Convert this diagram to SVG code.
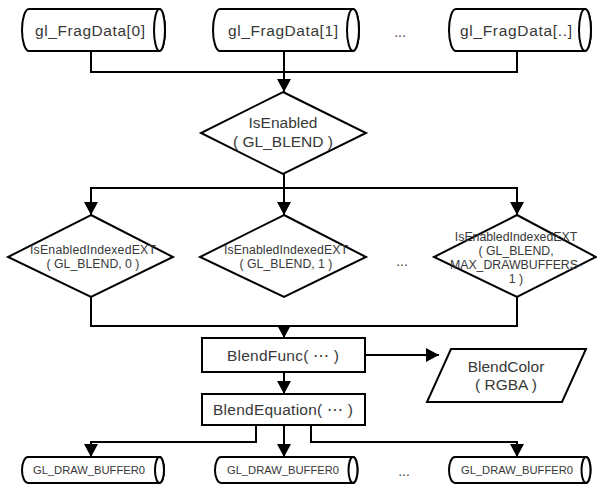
<svg xmlns="http://www.w3.org/2000/svg" width="597" height="484" viewBox="0 0 597 484">
<style>
.s{fill:#fff;stroke:#000;stroke-width:2}
.c{fill:none;stroke:#000;stroke-width:2}
text{font-family:"Liberation Sans",Arial,sans-serif;fill:#383838;text-anchor:middle}
.t15{font-size:15.5px}
.t12{font-size:12.3px}
.t11{font-size:11.2px}
.dots{font-size:14px;fill:#444}
</style>
<defs>
<marker id="ah" markerUnits="userSpaceOnUse" markerWidth="14" markerHeight="14" viewBox="0 0 14 14" refX="13" refY="7" orient="auto">
<path d="M0,0 L13,7 L0,14 Z" fill="#000"/>
</marker>
</defs>
<g id="connectors">
<path class="c" d="M91,51 V72 H517 V51"/>
<path class="c" d="M284,51 V92" marker-end="url(#ah)"/>
<path class="c" d="M284,174 V188"/>
<path class="c" d="M91,215 V188 H517 V215" marker-end="url(#ah)"/>
<path class="c" d="M91,188 V215" marker-end="url(#ah)"/>
<path class="c" d="M284,188 V215" marker-end="url(#ah)"/>
<path class="c" d="M91,297 V326 H517 V297"/>
<path class="c" d="M284,326 V338" marker-end="url(#ah)"/>
<path class="c" d="M365,355 H439" marker-end="url(#ah)"/>
<path class="c" d="M284,372 V394" marker-end="url(#ah)"/>
<path class="c" d="M256,425 V442 H91 V457" marker-end="url(#ah)"/>
<path class="c" d="M284,425 V457" marker-end="url(#ah)"/>
<path class="c" d="M311,425 V442 H517 V457" marker-end="url(#ah)"/>
</g>
<g id="fragdata0">
<path class="s" d="M29,9 H159.5 A5.5,21 0 0 1 159.5,51 H29 A7,21 0 0 1 29,9 Z"/>
<ellipse class="s" cx="159.5" cy="30" rx="5.5" ry="21"/>
<text class="t15" x="90" y="35.5" textLength="110">gl_FragData[0]</text>
</g>
<g id="fragdata1">
<path class="s" d="M220,9 H353 A6,21 0 0 1 353,51 H220 A7,21 0 0 1 220,9 Z"/>
<ellipse class="s" cx="353" cy="30" rx="6" ry="21"/>
<text class="t15" x="283" y="35.5" textLength="110">gl_FragData[1]</text>
</g>
<text class="dots" x="400" y="37">...</text>
<g id="fragdataN">
<path class="s" d="M456,9 H585 A6,21 0 0 1 585,51 H456 A7,21 0 0 1 456,9 Z"/>
<ellipse class="s" cx="585" cy="30" rx="6" ry="21"/>
<text class="t15" x="516" y="35.5" textLength="112">gl_FragData[..]</text>
</g>
<g id="isenabled">
<polygon class="s" points="283,92 366,133 283,174 201,133"/>
<text class="t15" x="283" y="128">IsEnabled</text>
<text class="t15" x="283" y="147">( GL_BLEND )</text>
</g>
<g id="indexed0">
<polygon class="s" points="91,215 173,257 91,297 8,257"/>
<text class="t12" x="93" y="254" textLength="126">IsEnabledIndexedEXT</text>
<text class="t12" x="93" y="268">( GL_BLEND, 0 )</text>
</g>
<g id="indexed1">
<polygon class="s" points="284,215 366,257 284,297 200,257"/>
<text class="t12" x="286" y="254" textLength="124">IsEnabledIndexedEXT</text>
<text class="t12" x="286" y="268">( GL_BLEND, 1 )</text>
</g>
<text class="dots" x="402" y="266">...</text>
<g id="indexedN">
<polygon class="s" points="517,215 596,257 517,297 434,257"/>
<text class="t12" x="516" y="241">IsEnabledIndexedEXT</text>
<text class="t12" x="516" y="255">( GL_BLEND,</text>
<text class="t12" x="516" y="269">MAX_DRAWBUFFERS-</text>
<text class="t12" x="516" y="283">1 )</text>
</g>
<g id="blendfunc">
<rect class="s" x="202" y="338" width="163" height="34"/>
<text class="t15" x="283" y="360.5" textLength="112">BlendFunc( ⋯ )</text>
</g>
<g id="blendcolor">
<polygon class="s" points="451,349 586,349 562,402 427,402"/>
<text class="t15" x="506" y="372">BlendColor</text>
<text class="t15" x="506" y="390">( RGBA )</text>
</g>
<g id="blendequation">
<rect class="s" x="202" y="394" width="163" height="31"/>
<text class="t15" x="283" y="415" textLength="140">BlendEquation( ⋯ )</text>
</g>
<g id="drawbuffer0">
<path class="s" d="M28,457 H159.5 A4.5,13 0 0 1 159.5,483 H28 A6,13 0 0 1 28,457 Z"/>
<ellipse class="s" cx="159.5" cy="470" rx="4.5" ry="13"/>
<text class="t11" x="89" y="474">GL_DRAW_BUFFER0</text>
</g>
<g id="drawbuffer1">
<path class="s" d="M221,457 H353 A4.5,13 0 0 1 353,483 H221 A6,13 0 0 1 221,457 Z"/>
<ellipse class="s" cx="353" cy="470" rx="4.5" ry="13"/>
<text class="t11" x="283" y="474">GL_DRAW_BUFFER0</text>
</g>
<text class="dots" x="404" y="476">...</text>
<g id="drawbufferN">
<path class="s" d="M455,457 H586 A4.5,13 0 0 1 586,483 H455 A6,13 0 0 1 455,457 Z"/>
<ellipse class="s" cx="586" cy="470" rx="4.5" ry="13"/>
<text class="t11" x="517" y="474">GL_DRAW_BUFFER0</text>
</g>
</svg>
